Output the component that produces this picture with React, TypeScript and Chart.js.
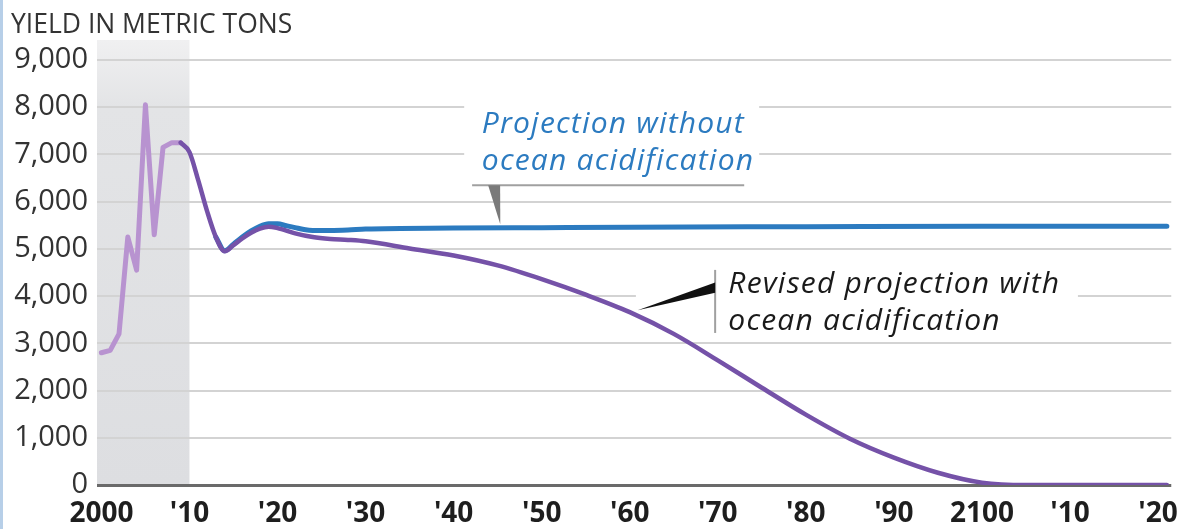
import React, { useEffect, useRef } from "react";
import { Chart, registerables } from "chart.js";

Chart.register(...registerables);

const titleText = "YIELD IN METRIC TONS";

// Historic catch (light purple)
const histYears = [2000, 2001, 2002, 2003, 2004, 2005, 2006, 2007, 2008, 2009];
const histValues = [2800, 2850, 3200, 5250, 4550, 8050, 5300, 7150, 7250, 7250];

// Revised projection with ocean acidification (dark purple)
const revYears = [
  2009, 2010, 2011, 2012, 2013, 2014, 2015, 2016, 2017, 2018, 2019, 2020, 2022, 2024, 2026, 2028,
  2030, 2035, 2040, 2045, 2050, 2055, 2060, 2065, 2070, 2075, 2080, 2085, 2090, 2095, 2100, 2105,
  2110, 2115, 2121,
];
const revValues = [
  7250, 7050, 6450, 5800, 5250, 4950, 5080, 5220, 5340, 5430, 5470, 5440, 5330, 5250, 5210, 5190,
  5160, 5010, 4860, 4650, 4360, 4030, 3660, 3200, 2640, 2060, 1490, 980, 580, 260, 50, 0,
  0, 0, 0,
];

// Projection without ocean acidification (blue)
const baseYears = [
  2013, 2014, 2015, 2016, 2017, 2018, 2019, 2020, 2021, 2022, 2023, 2024, 2026, 2028, 2030, 2040,
  2050, 2060, 2080, 2100, 2121,
];
const baseValues = [
  5250, 4960, 5100, 5250, 5380, 5480, 5530, 5530, 5490, 5450, 5410, 5390, 5390, 5400, 5420, 5440,
  5450, 5460, 5470, 5480, 5480,
];

const xTickYears = [2000, 2010, 2020, 2030, 2040, 2050, 2060, 2070, 2080, 2090, 2100, 2110, 2120];
const xTickLabels = ["2000", "'10", "'20", "'30", "'40", "'50", "'60", "'70", "'80", "'90", "2100", "'10", "'20"];
const yTickValues = [0, 1000, 2000, 3000, 4000, 5000, 6000, 7000, 8000, 9000];
const yTickLabels = ["0", "1,000", "2,000", "3,000", "4,000", "5,000", "6,000", "7,000", "8,000", "9,000"];

const shadeRange = [1999.5, 2010];

const noteBlueLines = ["Projection without", "ocean acidification"];
const notePurpleLines = ["Revised projection with", "ocean acidification"];

const BLUE = "#2c7bc0";
const PURPLE = "#7552a8";
const LILAC = "#b893d0";

const toXY = (xs: number[], ys: number[]) => xs.map((x, i) => ({ x, y: ys[i] }));

const decorPlugin = {
  id: "decor",
  beforeDraw(chart: any) {
    const { ctx, chartArea, scales } = chart;
    const x = scales.x;
    ctx.save();
    ctx.fillStyle = "#ffffff";
    ctx.fillRect(0, 0, chart.width, chart.height);
    const x0 = x.getPixelForValue(shadeRange[0]);
    const x1 = x.getPixelForValue(shadeRange[1]);
    const top = chartArea.top - 20;
    const g = ctx.createLinearGradient(0, top, 0, chartArea.bottom);
    g.addColorStop(0, "#f0f0f1");
    g.addColorStop(0.15, "#e3e4e6");
    g.addColorStop(1, "#dddee1");
    ctx.fillStyle = g;
    ctx.fillRect(x0, top, x1 - x0, chartArea.bottom - top);
    ctx.font = "26.5px 'Open Sans'";
    ctx.fillStyle = "#333333";
    ctx.textBaseline = "alphabetic";
    ctx.textAlign = "left";
    ctx.fillText(titleText, 11, 33);
    ctx.fillStyle = "#b7cfe8";
    ctx.fillRect(0, 0, 3, chart.height);
    ctx.restore();
  },
  beforeDatasetsDraw(chart: any) {
    const { ctx, scales } = chart;
    const X = (v: number) => scales.x.getPixelForValue(v);
    const Y = (v: number) => scales.y.getPixelForValue(v);
    ctx.save();
    ctx.fillStyle = "#ffffff";
    ctx.fillRect(X(2041.2), Y(8250), X(2074.7) - X(2041.2), Y(6420) - Y(8250));
    ctx.fillRect(X(2060.7), Y(4720), X(2110.9) - X(2060.7), Y(3140) - Y(4720));
    ctx.restore();
  },
  afterDatasetsDraw(chart: any) {
    const { ctx, scales } = chart;
    const X = (v: number) => scales.x.getPixelForValue(v);
    const Y = (v: number) => scales.y.getPixelForValue(v);
    ctx.save();
    // note 1: underline + grey wedge
    ctx.strokeStyle = "#a0a0a0";
    ctx.lineWidth = 2;
    ctx.beginPath();
    ctx.moveTo(X(2042.1), Y(6350));
    ctx.lineTo(X(2073.0), Y(6350));
    ctx.stroke();
    ctx.fillStyle = "#7a7a7a";
    ctx.beginPath();
    ctx.moveTo(X(2044.6) - 6, Y(6350));
    ctx.lineTo(X(2044.6) + 6, Y(6350));
    ctx.lineTo(X(2045.3), Y(5520));
    ctx.closePath();
    ctx.fill();
    ctx.font = "italic 30px 'Open Sans'";
    (ctx as any).letterSpacing = "1.2px";
    ctx.fillStyle = BLUE;
    ctx.textAlign = "left";
    ctx.textBaseline = "alphabetic";
    ctx.fillText(noteBlueLines[0], X(2043.2), Y(7455));
    ctx.fillText(noteBlueLines[1], X(2043.2), Y(6671));

    // note 2: vertical bar + black wedge
    ctx.strokeStyle = "#a0a0a0";
    ctx.lineWidth = 2;
    ctx.beginPath();
    ctx.moveTo(X(2069.7), Y(4555));
    ctx.lineTo(X(2069.7), Y(3220));
    ctx.stroke();
    ctx.fillStyle = "#111111";
    ctx.beginPath();
    ctx.moveTo(X(2069.7), Y(4290));
    ctx.lineTo(X(2069.7), Y(4070));
    ctx.lineTo(X(2060.9), Y(3700));
    ctx.closePath();
    ctx.fill();
    ctx.fillStyle = "#1a1a1a";
    ctx.fillText(notePurpleLines[0], X(2071.2), Y(4066));
    ctx.fillText(notePurpleLines[1], X(2071.2), Y(3282));
    ctx.restore();
  },
};

export default function App() {
  const ref = useRef<HTMLCanvasElement | null>(null);
  useEffect(() => {
    document.body.style.margin = "0";
    const canvas = ref.current;
    if (!canvas) return;
    const chart = new Chart(canvas, {
      type: "line",
      data: {
        datasets: [
          {
            label: "Revised projection with ocean acidification",
            data: toXY(revYears, revValues),
            borderColor: PURPLE,
            borderWidth: 4.5,
            cubicInterpolationMode: "monotone",
            pointRadius: 0,
            borderCapStyle: "round",
            borderJoinStyle: "round",
          },
          {
            label: "Historic",
            data: toXY(histYears, histValues),
            borderColor: LILAC,
            borderWidth: 5,
            tension: 0,
            pointRadius: 0,
            borderCapStyle: "round",
            borderJoinStyle: "round",
          },
          {
            label: "Projection without ocean acidification",
            data: toXY(baseYears, baseValues),
            borderColor: BLUE,
            borderWidth: 5,
            cubicInterpolationMode: "monotone",
            pointRadius: 0,
            borderCapStyle: "round",
            borderJoinStyle: "round",
          },
        ],
      },
      options: {
        animation: false,
        responsive: false,
        events: [],
        layout: { padding: { top: 60, right: 17, left: 0, bottom: 0 } },
        plugins: { legend: { display: false }, tooltip: { enabled: false }, title: { display: false } },
        scales: {
          x: {
            type: "linear",
            min: 1999.5,
            max: 2121.5,
            afterBuildTicks: (axis: any) => {
              axis.ticks = xTickYears.map((v) => ({ value: v }));
            },
            afterFit: (axis: any) => {
              axis.height = 44;
            },
            grid: { display: false, drawTicks: false },
            border: { display: false },
            ticks: {
              autoSkip: false,
              maxRotation: 0,
              padding: 12,
              color: "#1e1e1e",
              font: { family: "'Open Sans'", size: 28, weight: "bold" },
              callback: (_v: any, i: number) => xTickLabels[i],
            },
          },
          y: {
            type: "linear",
            min: 0,
            max: 9000,
            afterBuildTicks: (axis: any) => {
              axis.ticks = yTickValues.map((v) => ({ value: v }));
            },
            afterFit: (axis: any) => {
              axis.width = 97;
            },
            grid: {
              drawTicks: false,
              color: (c: any) => (c.tick && c.tick.value === 0 ? "#6a6a6a" : "#d3d3d3"),
              lineWidth: (c: any) => (c.tick && c.tick.value === 0 ? 3 : 2),
            },
            border: { display: false },
            ticks: {
              padding: 9,
              color: "#333333",
              font: { family: "'Open Sans'", size: 29 },
              callback: (_v: any, i: number) => yTickLabels[i],
            },
          },
        },
      },
      plugins: [decorPlugin],
    } as any);
    return () => chart.destroy();
  }, []);
  return (
    <div style={{ width: 1190, height: 529, position: "relative" }}>
      <canvas ref={ref} width={1190} height={529} style={{ display: "block" }} />
    </div>
  );
}
